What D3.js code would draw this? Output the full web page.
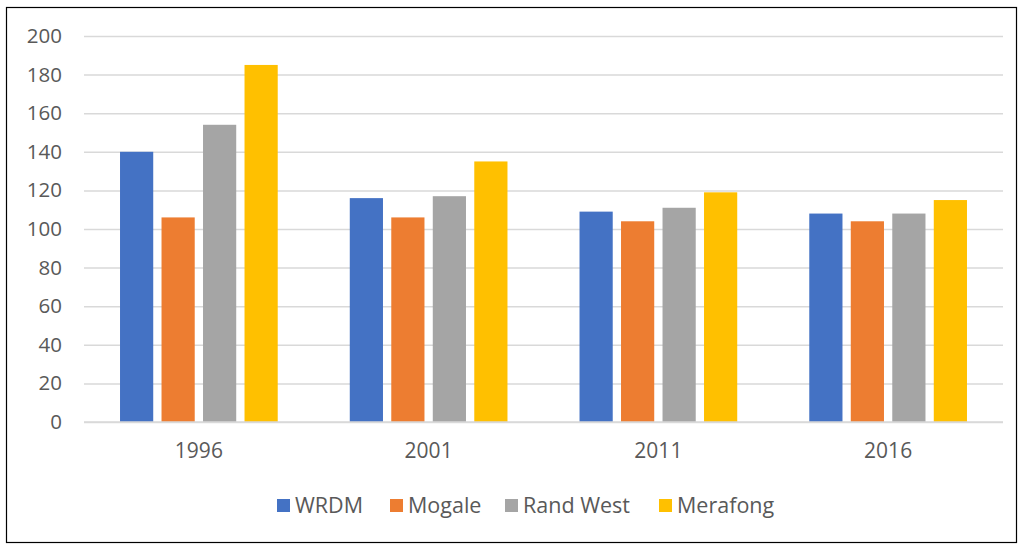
<!DOCTYPE html>
<html><head><meta charset="utf-8">
<script src="https://cdn.jsdelivr.net/npm/d3@7"></script>
<style>body{margin:0;background:#fff;} svg{display:block;} text{font-family:"Open Sans",sans-serif;fill:#595959;}</style>
</head><body><svg id="c" width="1019" height="545"></svg>
<script>
const categories = ["1996","2001","2011","2016"];
const seriesNames = ["WRDM","Mogale","Rand West","Merafong"];
const WRDM = [140,116,109,108];
const Mogale = [106,106,104,104];
const RandWest = [154,117,111,108];
const Merafong = [185,135,119,115];
const seriesValues = [WRDM, Mogale, RandWest, Merafong];
const colors = ["#4472C4","#ED7D31","#A5A5A5","#FFC000"];
const yTicks = [0,20,40,60,80,100,120,140,160,180,200];

const svg = d3.select("#c");
svg.append("rect").attr("x",6.5).attr("y",7.5).attr("width",1010).attr("height",535)
  .attr("fill","#fff").attr("stroke","#000").attr("stroke-width",1.2);

const L=84, R=1003, T=36, B=422;
const x0 = d3.scaleBand().domain(categories).range([L,R]).padding(0);
const groupW = 166;
const x1 = d3.scaleBand().domain(seriesNames).range([0,groupW]).paddingInner(0.2).paddingOuter(0.1);
const y = d3.scaleLinear().domain([0,200]).range([B,T]);

const yAxis = d3.axisLeft(y).tickValues(yTicks).tickSize(-(R-L)).tickPadding(22);
const gy = svg.append("g").attr("transform",`translate(${L},0)`).call(yAxis);
gy.select(".domain").remove();
gy.selectAll(".tick line").attr("stroke","#d9d9d9").attr("stroke-width",1.5);
gy.selectAll(".tick text").attr("font-size",20.5).attr("fill","#595959").style("font-family","Open Sans");

const groups = svg.append("g").selectAll("g").data(categories).join("g")
  .attr("transform",d=>`translate(${x0(d)+(x0.bandwidth()-groupW)/2},0)`);
groups.selectAll("rect").data((d,i)=>seriesNames.map((s,j)=>({s,v:seriesValues[j][i],c:colors[j]})))
  .join("rect")
  .attr("x",d=>x1(d.s)).attr("width",x1.bandwidth())
  .attr("y",d=>y(d.v)).attr("height",d=>B-y(d.v))
  .attr("fill",d=>d.c);

svg.append("line").attr("x1",L).attr("x2",R).attr("y1",B).attr("y2",B).attr("stroke","#d9d9d9").attr("stroke-width",1.5);

const xAxis = d3.axisBottom(x0).tickSize(0).tickPadding(21);
const gx = svg.append("g").attr("transform",`translate(0,${B})`).call(xAxis);
gx.select(".domain").remove();
gx.selectAll(".tick text").attr("font-size",21).attr("fill","#595959").style("font-family","Open Sans");

const legX = [277,390,505,659];
const lg = svg.append("g").selectAll("g").data(seriesNames).join("g")
  .attr("transform",(d,i)=>`translate(${legX[i]},499)`);
lg.append("rect").attr("width",13).attr("height",13).attr("fill",(d,i)=>colors[i]);
lg.append("text").attr("x",18).attr("y",6.5).attr("dy","0.35em").attr("font-size",21.5).text(d=>d);
</script></body></html>
